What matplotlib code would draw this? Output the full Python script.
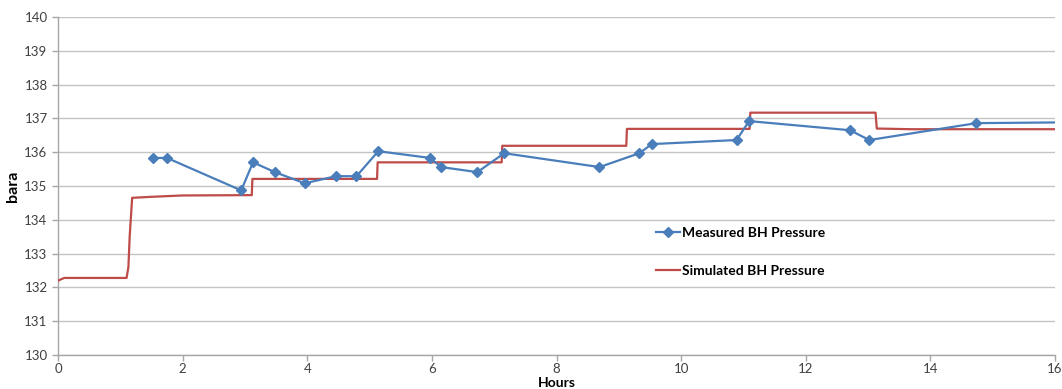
import matplotlib
matplotlib.use("Agg")
import matplotlib.pyplot as plt

# Measured BH pressure (hours, bara)
meas_hours = [1.52, 1.75, 2.94, 3.13, 3.48, 3.96, 4.46, 4.79, 5.14, 5.97, 6.15, 6.73,
              7.16, 8.69, 9.33, 9.53, 10.89, 11.09, 12.71, 13.02, 14.74, 16.0]
meas_bara = [135.83, 135.83, 134.87, 135.70, 135.41, 135.08, 135.29, 135.29, 136.03,
             135.83, 135.56, 135.41, 135.97, 135.56, 135.97, 136.24, 136.36, 136.92,
             136.65, 136.36, 136.86, 136.88]

# Simulated BH pressure (hours, bara)
sim_hours = [0.0, 0.1, 1.1, 1.13, 1.15, 1.19, 1.5, 2.0, 3.11, 3.12, 5.12, 5.13, 7.12, 7.13,
             9.12, 9.13, 11.1, 11.11, 13.12, 13.14, 13.7, 16.0]
sim_bara = [132.2, 132.28, 132.28, 132.6, 133.5, 134.65, 134.68, 134.72, 134.73, 135.21,
            135.21, 135.70, 135.70, 136.19, 136.19, 136.69, 136.69, 137.17, 137.17, 136.70,
            136.68, 136.68]

xticks = [0, 2, 4, 6, 8, 10, 12, 14, 16]
yticks = [130, 131, 132, 133, 134, 135, 136, 137, 138, 139, 140]

plt.rcParams['font.family'] = ['Lato', 'DejaVu Sans']

fig = plt.figure(figsize=(10.62, 3.89), dpi=100)
ax = fig.add_axes([58 / 1062, 1 - 355 / 389, 997 / 1062, 338 / 389])

blue = '#4A7EBB'
red = '#BE4B48'

ax.plot(sim_hours, sim_bara, color=red, lw=1.6, label='Simulated BH Pressure', zorder=3)
ax.plot(meas_hours, meas_bara, color=blue, lw=1.6, marker='D', markersize=5,
        markevery=list(range(len(meas_hours) - 1)), label='Measured BH Pressure', zorder=4)

ax.set_xlim(0, 16)
ax.set_ylim(130, 140)
ax.set_xticks(xticks)
ax.set_yticks(yticks)
ax.grid(axis='y', color='#C4C4C4', lw=1.0)
ax.set_axisbelow(True)
for s in ['top', 'right']:
    ax.spines[s].set_visible(False)
for s in ['left', 'bottom']:
    ax.spines[s].set_color('#A6A6A6')
    ax.spines[s].set_linewidth(1.0)
ax.tick_params(axis='both', colors='#A6A6A6', labelcolor='#404040', labelsize=9.5,
               length=4, width=1, direction='out')
ax.tick_params(axis='x', pad=2)

ax.set_ylabel('bara', fontsize=11.5, fontweight='bold', color='black')
ax.yaxis.set_label_coords(-38 / 997, 0.5)
ax.set_xlabel('Hours', fontsize=10, fontweight='bold', color='black', va='center')
ax.xaxis.set_label_coords(0.5, (355 - 383) / 338)

handles, labels = ax.get_legend_handles_labels()
leg = ax.legend(handles[::-1], labels[::-1], loc='center left',
                bbox_to_anchor=((656 - 58) / 997, (355 - 252) / 338),
                frameon=False, fontsize=10, handlelength=1.7, handletextpad=0.15,
                labelspacing=1.9, borderpad=0, borderaxespad=0)
for t in leg.get_texts():
    t.set_fontweight('bold')

fig.savefig('out.png', dpi=100)
